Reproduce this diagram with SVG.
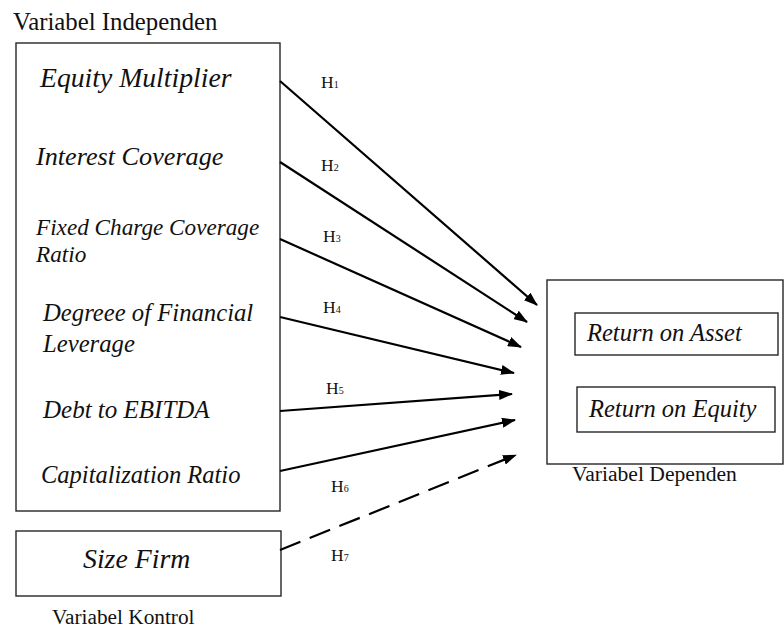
<svg xmlns="http://www.w3.org/2000/svg" width="784" height="628" viewBox="0 0 784 628">
<defs>
<style>
.box{fill:none;stroke:#262626;stroke-width:1.4}
.it{font-family:"Liberation Serif","Times New Roman",serif;font-style:italic;fill:#111}
.rg{font-family:"Liberation Serif","Times New Roman",serif;fill:#111}
.h{font-family:"Liberation Serif","Times New Roman",serif;font-size:17.5px;fill:#111}
.sub{font-size:10px}
.arr{stroke:#000;stroke-width:2.2;fill:none;marker-end:url(#ah)}
.dash{stroke-dasharray:22 10}
</style>
<marker id="ah" markerUnits="userSpaceOnUse" markerWidth="14" markerHeight="10" refX="13" refY="5" orient="auto">
<path d="M0,0 L14,5 L0,10 z" fill="#000"/>
</marker>
</defs>
<rect width="784" height="628" fill="#fff"/>

<g id="independen">
<text class="rg" x="13" y="30" font-size="24.8">Variabel Independen</text>
<rect class="box" x="16" y="43" width="264" height="468"/>
<text class="it" x="40" y="87" font-size="27.7">Equity Multiplier</text>
<text class="it" x="36" y="165" font-size="26.2">Interest Coverage</text>
<text class="it" x="36" y="235" font-size="23.2">Fixed Charge Coverage</text>
<text class="it" x="36" y="262" font-size="23.2">Ratio</text>
<text class="it" x="43" y="321" font-size="24.7">Degreee of Financial</text>
<text class="it" x="43" y="352" font-size="24.7">Leverage</text>
<text class="it" x="43" y="418" font-size="25">Debt to EBITDA</text>
<text class="it" x="41" y="483" font-size="24.5">Capitalization Ratio</text>
</g>

<g id="kontrol">
<rect class="box" x="16" y="531" width="265" height="65"/>
<text class="it" x="83" y="568" font-size="27.8">Size Firm</text>
<text class="rg" x="52" y="624" font-size="21.3">Variabel Kontrol</text>
</g>

<g id="dependen">
<rect class="box" x="547" y="280" width="236" height="184"/>
<rect class="box" x="575" y="313" width="203" height="42"/>
<text class="it" x="587" y="341" font-size="24.5">Return on Asset</text>
<rect class="box" x="577" y="387" width="198" height="45"/>
<text class="it" x="589" y="417" font-size="24.5">Return on Equity</text>
<text class="rg" x="572" y="481" font-size="21.6">Variabel Dependen</text>
</g>

<g id="connectors">
<line class="arr" x1="280" y1="81" x2="537" y2="305"/>
<line class="arr" x1="280" y1="162" x2="527" y2="322"/>
<line class="arr" x1="280" y1="239" x2="521" y2="347"/>
<line class="arr" x1="280" y1="317" x2="514" y2="373"/>
<line class="arr" x1="280" y1="411" x2="512" y2="394"/>
<line class="arr" x1="280" y1="471" x2="515" y2="420"/>
<line class="arr dash" x1="280" y1="550" x2="516" y2="455"/>
</g>

<g id="labels">
<text class="h" x="321" y="88">H<tspan class="sub">1</tspan></text>
<text class="h" x="321" y="171">H<tspan class="sub">2</tspan></text>
<text class="h" x="323" y="242">H<tspan class="sub">3</tspan></text>
<text class="h" x="323" y="313">H<tspan class="sub">4</tspan></text>
<text class="h" x="326" y="394">H<tspan class="sub">5</tspan></text>
<text class="h" x="331" y="492">H<tspan class="sub">6</tspan></text>
<text class="h" x="331" y="561">H<tspan class="sub">7</tspan></text>
</g>
</svg>
